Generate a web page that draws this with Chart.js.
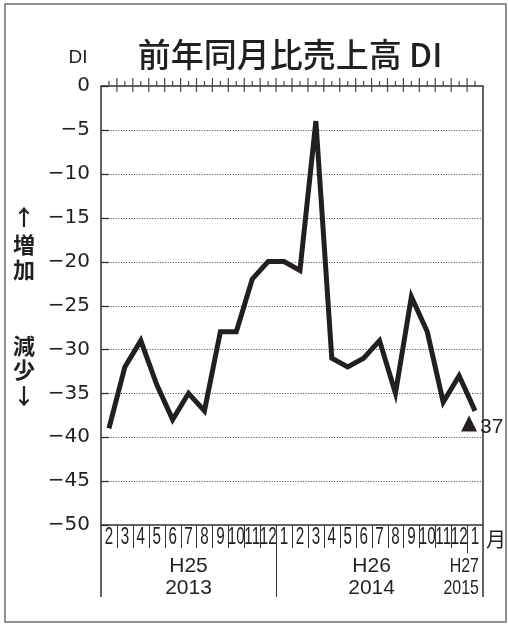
<!DOCTYPE html>
<html>
<head>
<meta charset="utf-8">
<script src="https://cdn.jsdelivr.net/npm/chart.js@4"></script>
<style>
html,body{margin:0;padding:0;background:#fff;}
#wrap{width:508px;height:624px;}
</style>
</head>
<body>
<div id="wrap"><canvas id="c" width="508" height="624"></canvas></div>
<script>
// ---- data ----
const months = ['2','3','4','5','6','7','8','9','10','11','12','1','2','3','4','5','6','7','8','9','10','11','12','1'];
const salesDI = [-39,-32,-29,-34,-38,-35,-37,-28,-28,-22,-20,-20,-21,-4,-31,-32,-31,-29,-35,-24,-28,-36,-33,-37];
const yTickValues = [0,-5,-10,-15,-20,-25,-30,-35,-40,-45,-50];
const yTickLabels = ['0','−5','−10','−15','−20','−25','−30','−35','−40','−45','−50'];
const yearEra = ['H25','H26','H27'];
const yearWestern = ['2013','2014','2015'];
const yearStartIndex = [0,11,23];
const titleText = '前年同月比売上高 DI';
const unitText = 'DI';
const monthUnit = '月';
const upLabel = ['↑','増','加'];
const downLabel = ['減','少','↓'];
const lastLabel = '37';
const lastMark = '▲';

const INK = '#231f20';

const decor = {
  id: 'decor',
  beforeDatasetsDraw(chart) {
    const ctx = chart.ctx;
    const ca = chart.chartArea;
    const xs = chart.scales.x, ys = chart.scales.y;
    const n = months.length;
    const w = (xs.getPixelForValue(1) - xs.getPixelForValue(0));
    const bnd = i => xs.getPixelForValue(i) - w / 2;
    ctx.save();
    // dotted grid lines
    ctx.strokeStyle = '#444';
    ctx.lineWidth = 1;
    ctx.setLineDash([1, 1.6]);
    yTickValues.forEach(v => {
      if (v === 0 || v === -50) return;
      const y = Math.round(ys.getPixelForValue(v)) + 0.5;
      ctx.beginPath(); ctx.moveTo(ca.left + 7, y); ctx.lineTo(ca.right, y); ctx.stroke();
    });
    ctx.setLineDash([]);
    // inward solid ticks
    ctx.strokeStyle = '#333';
    ctx.lineWidth = 1.3;
    yTickValues.forEach(v => {
      const y = Math.round(ys.getPixelForValue(v)) + 0.5;
      ctx.beginPath(); ctx.moveTo(ca.left, y); ctx.lineTo(ca.left + 8, y); ctx.stroke();
    });
    // plot frame
    ctx.strokeStyle = '#333';
    ctx.lineWidth = 1.5;
    const top = ys.getPixelForValue(0), bot = ys.getPixelForValue(-50);
    ctx.beginPath();
    ctx.moveTo(ca.left, 597); ctx.lineTo(ca.left, top); ctx.lineTo(ca.right, top); ctx.lineTo(ca.right, 597);
    ctx.moveTo(ca.left, bot); ctx.lineTo(ca.right, bot);
    ctx.stroke();
    // top ticks
    ctx.lineWidth = 1.2;
    ctx.strokeStyle = '#444';
    for (let i = 0; i < n; i++) {
      const cx = xs.getPixelForValue(i);
      ctx.beginPath(); ctx.moveTo(cx, top - 5); ctx.lineTo(cx, top); ctx.stroke();
      if (i > 0) {
        const bx = bnd(i);
        ctx.beginPath(); ctx.moveTo(bx, top - 8); ctx.lineTo(bx, top + 6); ctx.stroke();
      }
    }
    // month separators
    ctx.strokeStyle = '#333';
    ctx.lineWidth = 1;
    for (let i = 1; i < n; i++) {
      const bx = Math.round(bnd(i)) + 0.5;
      let yEnd = 548;
      if (yearStartIndex.indexOf(i) >= 0) yEnd = (i === yearStartIndex[2]) ? 553 : 597;
      ctx.beginPath(); ctx.moveTo(bx, bot); ctx.lineTo(bx, yEnd); ctx.stroke();
    }
    // month labels
    ctx.fillStyle = INK;
    ctx.textAlign = 'center';
    ctx.textBaseline = 'middle';
    ctx.font = '23px "Liberation Sans Narrow", "Liberation Sans", sans-serif';
    months.forEach((m, i) => {
      const cx = xs.getPixelForValue(i);
      ctx.save();
      ctx.translate(cx, 538);
      ctx.scale(0.66, 1);
      ctx.fillText(m, 0, 0);
      ctx.restore();
    });
    // year labels
    ctx.font = '21px "Liberation Sans", Arial, sans-serif';
    for (let k = 0; k < yearEra.length; k++) {
      const s = yearStartIndex[k];
      const e = (k + 1 < yearStartIndex.length ? yearStartIndex[k + 1] : n) - 1;
      if (k < yearEra.length - 1) {
        const cx = (bnd(s) + bnd(e) + w) / 2;
        ctx.textAlign = 'center';
        ctx.fillText(yearEra[k], cx, 566);
        ctx.fillText(yearWestern[k], cx, 588);
      } else {
        ctx.save();
        ctx.translate(ca.right - 4, 0);
        ctx.scale(0.76, 1);
        ctx.textAlign = 'right';
        ctx.fillText(yearEra[k], 0, 566);
        ctx.fillText(yearWestern[k], 0, 588);
        ctx.restore();
      }
    }
    // month unit
    ctx.textAlign = 'center';
    ctx.font = '20px "Noto Sans CJK JP", sans-serif';
    ctx.fillText(monthUnit, 496, 539);
    // title
    ctx.font = '500 33px "Noto Sans CJK JP Medium", "Noto Sans CJK JP", sans-serif';
    ctx.fillText(titleText, 290, 54);
    ctx.font = '19px "Liberation Sans", Arial, sans-serif';
    ctx.fillText(unitText, 78, 58);
    // side labels
    ctx.font = 'bold 22px "Noto Sans CJK JP", sans-serif';
    const upY = [217, 245, 270];
    const downY = [346, 370, 396];
    upLabel.forEach((t, i) => ctx.fillText(t, 24, upY[i]));
    downLabel.forEach((t, i) => ctx.fillText(t, 24, downY[i]));
    // outer frame
    ctx.strokeStyle = '#777';
    ctx.lineWidth = 1.6;
    ctx.strokeRect(5, 4, 501, 618);
    ctx.restore();
  },
  afterDatasetsDraw(chart) {
    const ctx = chart.ctx;
    const xs = chart.scales.x, ys = chart.scales.y;
    const li = salesDI.length - 1;
    const px = xs.getPixelForValue(li), py = ys.getPixelForValue(salesDI[li]);
    ctx.save();
    ctx.fillStyle = INK;
    ctx.textBaseline = 'middle';
    ctx.textAlign = 'center';
    ctx.font = '21px "DejaVu Sans", sans-serif';
    ctx.fillText(lastMark, px - 6, py + 13);
    ctx.textAlign = 'left';
    ctx.font = '21px "Liberation Sans", Arial, sans-serif';
    ctx.fillText(lastLabel, px + 5, py + 16);
    ctx.restore();
  }
};

new Chart(document.getElementById('c'), {
  type: 'line',
  data: {
    labels: months,
    datasets: [{
      data: salesDI,
      borderColor: INK,
      borderWidth: 5,
      pointRadius: 0,
      tension: 0,
      borderJoinStyle: 'miter',
      fill: false
    }]
  },
  options: {
    responsive: false,
    animation: false,
    events: [],
    layout: { padding: { top: 86, left: 0, right: 25, bottom: 99 } },
    plugins: { legend: { display: false }, tooltip: { enabled: false }, title: { display: false } },
    scales: {
      x: { type: 'category', offset: true, display: false },
      y: {
        min: -50, max: 0,
        afterFit(scale) { scale.width = 101; },
        afterBuildTicks(scale) { scale.ticks = yTickValues.map(v => ({ value: v })); },
        grid: { display: false, drawTicks: false },
        border: { display: false },
        ticks: {
          padding: 11,
          color: INK,
          font: { family: '"DejaVu Sans", sans-serif', size: 20 },
          callback: (v) => yTickLabels[yTickValues.indexOf(v)]
        }
      }
    }
  },
  plugins: [decor]
});
</script>
</body>
</html>
